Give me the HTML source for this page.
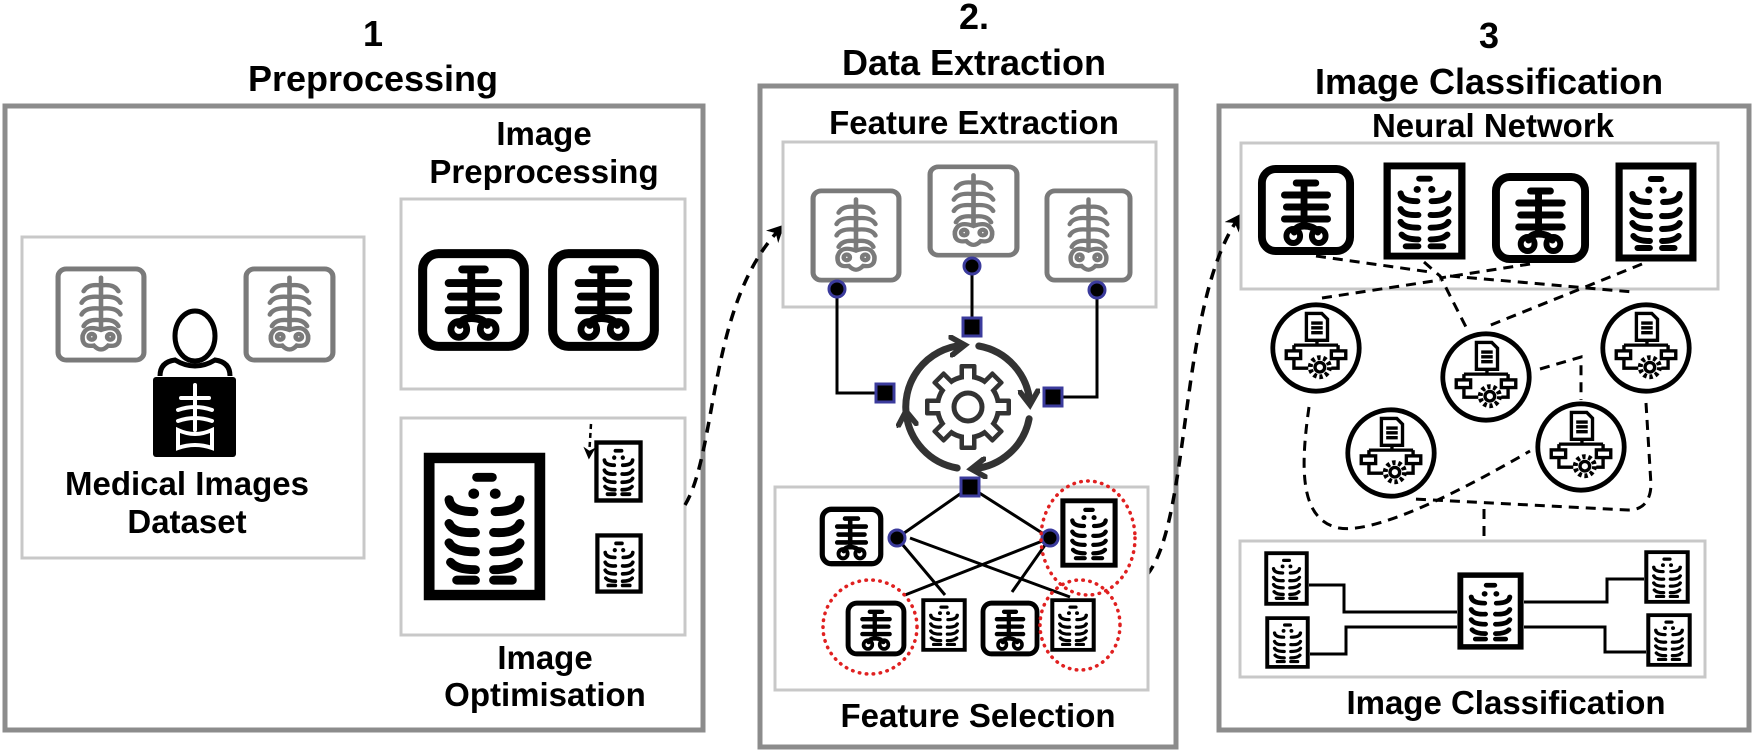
<!DOCTYPE html>
<html><head><meta charset="utf-8"><style>
html,body{margin:0;padding:0;background:#fff;}
svg{display:block;}
text{font-family:"Liberation Sans",Arial,sans-serif;font-weight:bold;fill:#000;text-anchor:middle;}
</style></head><body>
<svg width="1755" height="755" viewBox="0 0 1755 755" xmlns="http://www.w3.org/2000/svg">
<defs>
<symbol id="gx" viewBox="0 0 90 100" preserveAspectRatio="none">
<rect x="3" y="3" width="84" height="94" rx="8" fill="#fff" stroke="#7a7a7a" stroke-width="5"/>
<g stroke="#7a7a7a" stroke-width="4.5" fill="none" stroke-linecap="round">
<path d="M45 12V64"/>
<path d="M45 20Q32 18 28 26M45 20Q58 18 62 26"/>
<path d="M45 32Q30 30 26 38M45 32Q60 30 64 38"/>
<path d="M45 44Q30 42 26 50M45 44Q60 42 64 50"/>
<path d="M45 56Q32 54 28 62M45 56Q58 54 62 62"/>
<path d="M45 66Q30 60 27 72Q26 84 38 82Q45 90 52 82Q64 84 63 72Q60 60 45 66Z"/>
<circle cx="36" cy="73" r="3"/><circle cx="54" cy="73" r="3"/>
</g></symbol>
<symbol id="bx" viewBox="0 0 100 92" preserveAspectRatio="none">
<rect x="5" y="5" width="90" height="82" rx="14" fill="#fff" stroke="#000" stroke-width="8"/>
<g stroke="#000" stroke-width="7" fill="none" stroke-linecap="round">
<path d="M40 19H60M28 31H72M30 43H70M28 55H72M48 19V62"/>
<path d="M48 62Q40 62 38 68M48 62Q58 62 62 68"/>
</g>
<circle cx="37" cy="72" r="7" fill="none" stroke="#000" stroke-width="6"/>
<circle cx="63" cy="72" r="7" fill="none" stroke="#000" stroke-width="6"/>
</symbol>
<symbol id="rc" viewBox="0 0 80 100" preserveAspectRatio="none">
<rect x="4" y="4" width="72" height="92" fill="#fff" stroke="#000" stroke-width="7"/>
<g stroke="#000" stroke-width="6" fill="none" stroke-linecap="round">
<path d="M35 17H45"/>
<path d="M17 32Q18 40 33 40M63 32Q62 40 47 40"/>
<path d="M17 48Q20 55 34 54M63 48Q60 55 46 54"/>
<path d="M17 61Q20 67 34 67M63 61Q60 67 46 67"/>
<path d="M18 74Q22 79 34 79M62 74Q58 79 46 79"/>
<path d="M22 86H34M46 86H58"/>
</g>
<circle cx="33" cy="28" r="3.5"/><circle cx="47" cy="28" r="3.5"/>
</symbol>
<symbol id="gn" viewBox="0 0 100 100">
<circle cx="50" cy="50" r="45" fill="#fff" stroke="#000" stroke-width="5"/>
<g stroke="#000" stroke-width="3.5" fill="none">
<path d="M40 14H56L62 20V42H40Z"/><path d="M45 24H57M45 29H57M45 34H57"/>
<path d="M51 42V47M27 47H73M27 47V53M73 47V53"/>
<rect x="19" y="53" width="15" height="8"/><rect x="66" y="53" width="15" height="8"/>
<path d="M27 61V71H42M73 61V71H66"/>
<circle cx="54" cy="70" r="10" stroke-width="5" stroke-dasharray="3.5 2.8"/>
<circle cx="54" cy="70" r="5"/>
</g></symbol>
<marker id="ah" viewBox="0 0 10 10" refX="8" refY="5" markerWidth="5" markerHeight="5" orient="auto"><path d="M0 0L10 5L0 10L3 5Z" fill="#000"/></marker>
<marker id="ch" viewBox="0 0 10 10" refX="6" refY="5" markerWidth="3.2" markerHeight="3.2" orient="auto"><path d="M1 1L7 5L1 9" fill="none" stroke="#333" stroke-width="2.5" stroke-linecap="round"/></marker>
</defs>

<!-- titles -->
<text x="373" y="46" font-size="36">1</text>
<text x="373" y="91" font-size="36">Preprocessing</text>
<text x="974" y="29" font-size="36">2.</text>
<text x="974" y="75" font-size="36">Data Extraction</text>
<text x="1489" y="48" font-size="36">3</text>
<text x="1489" y="94" font-size="36">Image Classification</text>

<!-- panels -->
<rect x="5" y="106" width="698" height="624" fill="none" stroke="#8c8c8c" stroke-width="5"/>
<rect x="760" y="86" width="416" height="661" fill="none" stroke="#8c8c8c" stroke-width="5"/>
<rect x="1219" y="106" width="530" height="624" fill="none" stroke="#8c8c8c" stroke-width="5"/>

<!-- Panel 1 -->
<rect x="22" y="237" width="342" height="321" fill="#fff" stroke="#c8c8c8" stroke-width="3"/>
<use href="#gx" x="55" y="266" width="92" height="97"/>
<use href="#gx" x="243" y="266" width="93" height="97"/>
<ellipse cx="195" cy="336" rx="20" ry="25" fill="none" stroke="#000" stroke-width="5"/>
<path d="M160 376Q160 362 175 360Q195 372 215 360Q230 362 230 376" fill="none" stroke="#000" stroke-width="5"/>
<rect x="153" y="377" width="83" height="80" rx="3" fill="#000"/>
<g stroke="#fff" stroke-width="4" fill="none" stroke-linecap="round">
<path d="M195 385V430M181 398H209M178 410Q195 404 212 410M178 421Q195 415 212 421"/>
<path d="M178 430Q195 438 212 430L212 448Q195 442 178 448Z"/>
</g>
<text x="187" y="495" font-size="33">Medical Images</text>
<text x="187" y="533" font-size="33">Dataset</text>

<text x="544" y="145" font-size="33">Image</text>
<text x="544" y="183" font-size="33">Preprocessing</text>
<rect x="401" y="199" width="284" height="190" fill="#fff" stroke="#c8c8c8" stroke-width="3"/>
<use href="#bx" x="417" y="248" width="113" height="104"/>
<use href="#bx" x="547" y="248" width="113" height="104"/>
<rect x="401" y="418" width="284" height="217" fill="#fff" stroke="#c8c8c8" stroke-width="3"/>
<use href="#rc" x="423" y="452" width="123" height="149"/>
<rect x="428" y="457" width="113" height="139" fill="none" stroke="#000" stroke-width="5"/>
<use href="#rc" x="594" y="440" width="49" height="63"/>
<use href="#rc" x="595" y="533" width="48" height="61"/>
<path d="M591 424L589 457" stroke="#000" stroke-width="2.5" stroke-dasharray="5 4" fill="none" marker-end="url(#ah)"/>
<text x="545" y="669" font-size="33">Image</text>
<text x="545" y="706" font-size="33">Optimisation</text>

<!-- arrows between panels -->
<path d="M685 505C718 450 708 300 782 227" stroke="#000" stroke-width="3.5" stroke-dasharray="11 8" fill="none" marker-end="url(#ah)"/>
<path d="M1147 575C1192 520 1178 300 1240 216" stroke="#000" stroke-width="3.5" stroke-dasharray="11 8" fill="none" marker-end="url(#ah)"/>

<!-- Panel 2 -->
<text x="974" y="134" font-size="33">Feature Extraction</text>
<rect x="783" y="142" width="373" height="165" fill="#fff" stroke="#c8c8c8" stroke-width="3"/>
<use href="#gx" x="810" y="188" width="92" height="95"/>
<use href="#gx" x="927" y="164" width="93" height="94"/>
<use href="#gx" x="1044" y="188" width="89" height="95"/>
<g stroke="#000" stroke-width="3" fill="none">
<path d="M837 289V393H882"/><path d="M1097 290V397H1053"/><path d="M972 266V327"/>
</g>
<!-- gear cycle -->
<g stroke="#333" stroke-width="7" fill="none" stroke-linecap="round">
<path d="M906.9 418.8A62 62 0 0 1 962.6 345.2" marker-end="url(#ch)"/>
<path d="M978.8 346A62 62 0 0 1 1029.8 402.6" marker-end="url(#ch)"/>
<path d="M1029.1 418.8A62 62 0 0 1 973.4 468.8" marker-end="url(#ch)"/>
<path d="M957.2 468A62 62 0 0 1 906.2 413.4" marker-end="url(#ch)"/>
</g>
<g transform="translate(968 407)">
<g fill="#333">
<rect x="-8.5" y="-43" width="17" height="18" rx="2"/>
<rect x="-8.5" y="-43" width="17" height="18" rx="2" transform="rotate(45)"/>
<rect x="-8.5" y="-43" width="17" height="18" rx="2" transform="rotate(90)"/>
<rect x="-8.5" y="-43" width="17" height="18" rx="2" transform="rotate(135)"/>
<rect x="-8.5" y="-43" width="17" height="18" rx="2" transform="rotate(180)"/>
<rect x="-8.5" y="-43" width="17" height="18" rx="2" transform="rotate(225)"/>
<rect x="-8.5" y="-43" width="17" height="18" rx="2" transform="rotate(270)"/>
<rect x="-8.5" y="-43" width="17" height="18" rx="2" transform="rotate(315)"/>
<circle r="33"/>
</g>
<g fill="#fff">
<rect x="-4" y="-38.5" width="8" height="14"/>
<rect x="-4" y="-38.5" width="8" height="14" transform="rotate(45)"/>
<rect x="-4" y="-38.5" width="8" height="14" transform="rotate(90)"/>
<rect x="-4" y="-38.5" width="8" height="14" transform="rotate(135)"/>
<rect x="-4" y="-38.5" width="8" height="14" transform="rotate(180)"/>
<rect x="-4" y="-38.5" width="8" height="14" transform="rotate(225)"/>
<rect x="-4" y="-38.5" width="8" height="14" transform="rotate(270)"/>
<rect x="-4" y="-38.5" width="8" height="14" transform="rotate(315)"/>
<circle r="28"/>
</g>
<circle r="14" fill="none" stroke="#333" stroke-width="5"/>
</g>
<g fill="#000" stroke="#3b3b9c" stroke-width="3">
<circle cx="837" cy="289" r="8"/><circle cx="972" cy="266" r="8"/><circle cx="1097" cy="290" r="8"/>
<rect x="963" y="318" width="18" height="18"/><rect x="876" y="384" width="18" height="18"/>
<rect x="1044" y="388" width="18" height="18"/>
</g>

<rect x="775" y="487" width="373" height="203" fill="#fff" stroke="#c8c8c8" stroke-width="3"/>
<g stroke="#000" stroke-width="3">
<path d="M897 538L970 487M1050 538L970 487M897 538L945 595M910 538L1070 597M1050 538L905 595M1050 538L1012 592"/>
</g>
<use href="#bx" x="819" y="506" width="65" height="61"/>
<use href="#rc" x="1060" y="498" width="58" height="70"/>
<use href="#bx" x="845" y="600" width="62" height="57"/>
<use href="#rc" x="921" y="598" width="46" height="54"/>
<use href="#bx" x="980" y="600" width="60" height="57"/>
<use href="#rc" x="1050" y="598" width="46" height="54"/>
<g fill="#000" stroke="#3b3b9c" stroke-width="3">
<rect x="961" y="478" width="18" height="18"/>
<circle cx="897" cy="538" r="8"/><circle cx="1050" cy="538" r="8"/>
</g>
<g fill="none" stroke="#e02020" stroke-width="3.5" stroke-dasharray="0.5 6.5" stroke-linecap="round">
<circle cx="870" cy="627" r="47"/>
<ellipse cx="1088" cy="538" rx="47" ry="57"/>
<ellipse cx="1080" cy="625" rx="40" ry="45"/>
</g>
<text x="978" y="727" font-size="33">Feature Selection</text>

<!-- Panel 3 -->
<text x="1493" y="137" font-size="33">Neural Network</text>
<rect x="1241" y="143" width="477" height="146" fill="#fff" stroke="#c8c8c8" stroke-width="3"/>
<use href="#bx" x="1257" y="164" width="98" height="92"/>
<use href="#rc" x="1383" y="162" width="83" height="98"/>
<use href="#bx" x="1491" y="172" width="99" height="92"/>
<use href="#rc" x="1615" y="162" width="82" height="100"/>
<g stroke="#000" stroke-width="3" fill="none" stroke-dasharray="10 7">
<path d="M1316 256L1430 272"/>
<path d="M1424 262L1440 276L1467 329"/>
<path d="M1530 264L1440 278"/>
<path d="M1642 264L1486 327"/>
<path d="M1322 298L1440 280M1450 276L1633 292"/>
<path d="M1309 407C1300 470 1300 520 1339 528C1380 535 1480 480 1530 451"/>
<path d="M1646 403L1651 485Q1650 510 1628 510L1413 499"/>
<path d="M1540 369L1581 357L1581 400"/>
<path d="M1484 509V572"/>
</g>
<use href="#gn" x="1268" y="300" width="96" height="96"/>
<use href="#gn" x="1438" y="329" width="96" height="96"/>
<use href="#gn" x="1598" y="300" width="96" height="96"/>
<use href="#gn" x="1343" y="405" width="96" height="96"/>
<use href="#gn" x="1533" y="399" width="96" height="96"/>

<rect x="1240" y="541" width="465" height="136" fill="#fff" stroke="#c8c8c8" stroke-width="3"/>
<g stroke="#000" stroke-width="3" fill="none">
<path d="M1309 585H1344V612H1457"/><path d="M1310 654H1346V627H1457"/>
<path d="M1524 602H1607V579H1644"/><path d="M1524 627H1605V652H1646"/>
</g>
<use href="#rc" x="1264" y="551" width="45" height="55"/>
<use href="#rc" x="1265" y="616" width="45" height="53"/>
<use href="#rc" x="1457" y="572" width="67" height="78"/>
<use href="#rc" x="1644" y="550" width="46" height="54"/>
<use href="#rc" x="1646" y="613" width="46" height="54"/>
<text x="1506" y="714" font-size="33">Image Classification</text>
</svg>
</body></html>
